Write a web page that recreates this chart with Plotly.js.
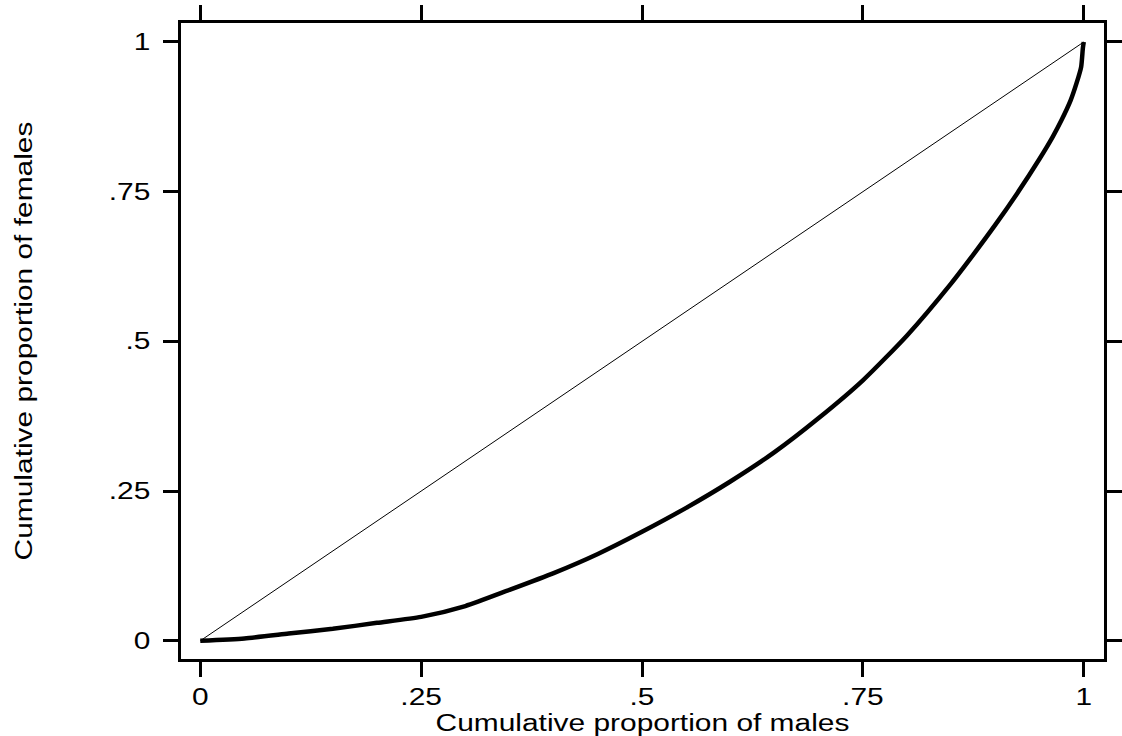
<!DOCTYPE html>
<html><head><meta charset="utf-8">
<script src="https://cdn.plot.ly/plotly-3.0.1.min.js"></script>
<style>html,body{margin:0;padding:0;background:#fff}</style>
</head><body><div id="chart" style="width:1122px;height:736px"></div>
<script>
// Cumulative proportions (Lorenz-type curve)
const malesCum   = [0, 0.05, 0.1, 0.15, 0.2, 0.25, 0.3, 0.35, 0.4, 0.45, 0.5, 0.55, 0.6, 0.65, 0.7, 0.75, 0.8, 0.85, 0.875, 0.9, 0.925, 0.95, 0.965, 0.975, 0.985, 0.992, 0.997, 0.999, 1];
const femalesCum = [0, 0.004, 0.012, 0.02, 0.03, 0.04, 0.058, 0.085, 0.113, 0.145, 0.182, 0.222, 0.266, 0.315, 0.372, 0.435, 0.51, 0.597, 0.645, 0.695, 0.748, 0.805, 0.842, 0.87, 0.902, 0.932, 0.958, 0.99, 1];
const equalityX = [0, 1];
const equalityY = [0, 1];
const tickVals = [0, 0.25, 0.5, 0.75, 1];
const tickText = ['0', '.25', '.5', '.75', '1'];
const xTitle = 'Cumulative proportion of males';
const yTitle = 'Cumulative proportion of females';

const FONT = 'Liberation Sans, Arial, sans-serif';
const FS = 23;

const traces = [
  {x: equalityX, y: equalityY, mode: 'lines', line: {color: '#000', width: 1}, hoverinfo: 'skip'},
  {x: malesCum, y: femalesCum, mode: 'lines', line: {color: '#000', width: 4.5, shape: 'spline', smoothing: 0.6}}
];

const axisCommon = {
  tickvals: tickVals, ticktext: tickText,
  ticks: 'outside', ticklen: 15, tickwidth: 3, tickcolor: '#000',
  showline: true, linewidth: 3, linecolor: '#000', mirror: 'ticks',
  showgrid: false, zeroline: false,
  tickfont: {family: FONT, size: FS, color: '#000'}
};

const layout = {
  width: 1122, height: 736,
  margin: {l: 181, r: 18, t: 23, b: 77},
  paper_bgcolor: '#fff', plot_bgcolor: '#fff',
  showlegend: false,
  font: {family: FONT, size: FS, color: '#000'},
  xaxis: Object.assign({}, axisCommon, {
    range: [-0.0218, 1.0229],
    title: {text: xTitle, font: {family: FONT, size: FS, color: '#000'}, standoff: 1}
  }),
  yaxis: Object.assign({}, axisCommon, {
    range: [-0.0304, 1.0317],
    ticklabelstandoff: 8,
    title: {text: yTitle, font: {family: FONT, size: FS, color: '#000'}, standoff: 80}
  })
};

function stretchText() {
  document.querySelectorAll('#chart .xtick text, #chart .ytick text, #chart .xtitle, #chart .ytitle').forEach(function (t) {
    const w = t.getComputedTextLength();
    t.setAttribute('textLength', (w * 1.3).toFixed(1));
    t.setAttribute('lengthAdjust', 'spacingAndGlyphs');
  });
}

Plotly.newPlot('chart', traces, layout, {displayModeBar: false, staticPlot: true}).then(stretchText);
</script>
</body></html>
